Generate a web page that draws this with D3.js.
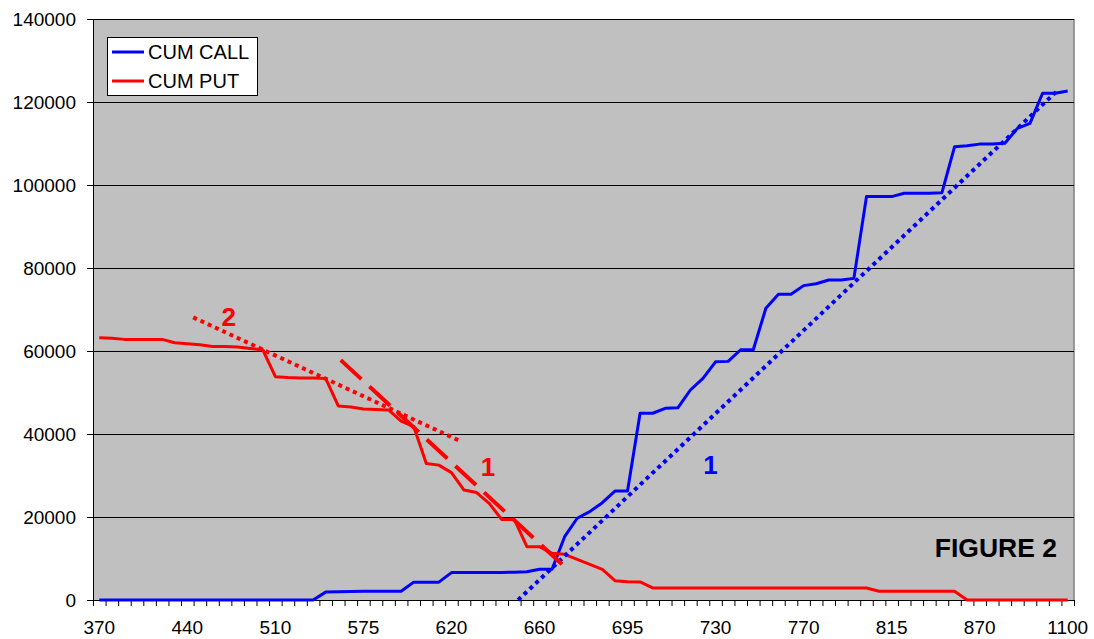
<!DOCTYPE html>
<html>
<head>
<meta charset="utf-8">
<script src="https://cdn.jsdelivr.net/npm/d3@7"></script>
<style>
  body { margin: 0; background: #fff; }
  text { font-family: "Liberation Sans", Arial, sans-serif; }
</style>
</head>
<body>
<script>
// Strike prices (categories), only every 7th one is labelled
const strikes = [
  370, 380, 390, 400, 410, 420, 430, 440, 450, 460, 470, 480, 490, 500, 510,
  520, 530, 540, 550, 560, 570, 575, 580, 585, 590, 595, 600, 610, 620,
  625, 630, 635, 640, 645, 650, 660, 665, 670, 675, 680, 685, 690, 695,
  700, 705, 710, 715, 720, 725, 730, 735, 740, 745, 750, 755, 760, 770,
  775, 780, 790, 795, 800, 810, 815, 820, 825, 830, 840, 850, 860, 870,
  880, 900, 920, 950, 1000, 1050, 1100
];

const cumCall = [
  0, 0, 0, 0, 0, 0, 0, 0, 0, 0, 0, 0, 0, 0, 0, 0, 0, 0,
  1900, 2000, 2050, 2100, 2100, 2100, 2100, 4300, 4300, 4300,
  6600, 6600, 6650, 6650, 6650, 6700, 6800, 7400, 7400,
  15250, 19700, 21300, 23450, 26250, 26250, 45000, 45000, 46200, 46300,
  50600, 53400, 57400, 57500, 60300, 60300, 70300, 73650, 73650,
  75750, 76200, 77100, 77100, 77500, 97200, 97200, 97200, 98000, 98000,
  98000, 98150, 109200, 109450, 109850, 109900, 110050, 113650, 114850,
  122100, 122100, 122650
];

const cumPut = [
  63200, 63050, 62800, 62800, 62800, 62800, 62000, 61750, 61500, 61100,
  61100, 60950, 60600, 60300, 53800, 53600, 53500, 53500, 53400, 46750,
  46500, 46000, 45900, 45800, 43100, 41800, 32900, 32500, 30700, 26500,
  25900, 23300, 19400, 19400, 12850, 12850, 11250, 11000, 9800, 8600,
  7400, 4650, 4400, 4350, 2900, 2900, 2900, 2900, 2900, 2900, 2900,
  2900, 2900, 2900, 2900, 2900, 2900, 2900, 2900, 2900, 2900, 2900,
  2100, 2100, 2100, 2100, 2100, 2100, 2100, 0, 0, 0, 0, 0, 0, 0, 0, 0
];

const yTicks = [0, 20000, 40000, 60000, 80000, 100000, 120000, 140000];

// Hand drawn trend lines: [category index, value]
const callTrend1 = [[33.3, 0], [76.1, 122500]];
const putTrend1 = [[19.2, 57800], [37.4, 6900]];
const putTrend2 = [[7.47, 68100], [28.8, 38150]];

const series = [
  { name: "CUM CALL", values: cumCall, color: "#0000ff" },
  { name: "CUM PUT", values: cumPut, color: "#ff0000" }
];

const width = 1094, height = 639;
const margin = { top: 19, right: 20, bottom: 39, left: 93 };
const plotW = width - margin.left - margin.right;
const plotH = height - margin.top - margin.bottom;

const svg = d3.select("body").append("svg")
  .attr("width", width)
  .attr("height", height);

const g = svg.append("g")
  .attr("transform", "translate(" + margin.left + "," + margin.top + ")");

// scales
const x = d3.scaleBand().domain(d3.range(strikes.length)).range([0, plotW]);
const xi = d3.scaleLinear().domain([0, strikes.length]).range([0, plotW]);
const y = d3.scaleLinear().domain([0, 140000]).range([plotH, 0]);
const cx = i => xi(i + 0.5);

// plot area
g.append("rect")
  .attr("width", plotW).attr("height", plotH)
  .attr("fill", "#c0c0c0");
g.append("line")
  .attr("x1", plotW).attr("x2", plotW)
  .attr("y1", 0).attr("y2", plotH)
  .attr("stroke", "#808080").attr("stroke-width", 1.5);

// gridlines
g.selectAll(".grid")
  .data(yTicks.slice(1))
  .enter().append("line")
  .attr("x1", 0).attr("x2", plotW)
  .attr("y1", d => Math.round(y(d)) + 0.5).attr("y2", d => Math.round(y(d)) + 0.5)
  .attr("stroke", "#000").attr("stroke-width", 1);

// y axis
const yAxis = g.append("g")
  .call(d3.axisLeft(y).tickValues(yTicks).tickSize(6).tickPadding(11).tickFormat(d3.format("d")));
yAxis.select(".domain").attr("stroke", "#000");
yAxis.selectAll("text").attr("font-size", 19).attr("fill", "#000")
  .style("font-family", "'Liberation Sans', Arial, sans-serif");

// x axis: tick marks at category boundaries
const xTickAxis = g.append("g")
  .attr("transform", "translate(0," + plotH + ")")
  .call(d3.axisBottom(xi).tickValues(d3.range(strikes.length + 1)).tickSize(6).tickFormat(""));
xTickAxis.select(".domain").attr("stroke", "#000");

// x axis labels every 7th category
const xLabelAxis = g.append("g")
  .attr("transform", "translate(0," + plotH + ")")
  .call(d3.axisBottom(x)
    .tickValues(d3.range(0, strikes.length, 7))
    .tickSize(0).tickPadding(21)
    .tickFormat(i => strikes[i]));
xLabelAxis.select(".domain").remove();
xLabelAxis.selectAll("text").attr("font-size", 19).attr("fill", "#000")
  .style("font-family", "'Liberation Sans', Arial, sans-serif");

// series lines
const line = d3.line()
  .x((d, i) => cx(i))
  .y(d => y(d));

g.selectAll(".series")
  .data(series)
  .enter().append("path")
  .attr("d", s => line(s.values))
  .attr("fill", "none")
  .attr("stroke", s => s.color)
  .attr("stroke-width", 3)
  .attr("stroke-linejoin", "round");

// trend lines
const trend = d3.line()
  .x(d => cx(d[0]))
  .y(d => y(d[1]));

g.append("path").attr("d", trend(callTrend1))
  .attr("fill", "none").attr("stroke", "#0000ff")
  .attr("stroke-width", 4).attr("stroke-dasharray", "4,4");
g.append("path").attr("d", trend(putTrend1))
  .attr("fill", "none").attr("stroke", "#ff0000")
  .attr("stroke-width", 4).attr("stroke-dasharray", "28,11");
g.append("path").attr("d", trend(putTrend2))
  .attr("fill", "none").attr("stroke", "#ff0000")
  .attr("stroke-width", 4).attr("stroke-dasharray", "4,4");

// trend labels
const notes = [
  { text: "2", i: 10.3, v: 66000, color: "#ff0000" },
  { text: "1", i: 30.9, v: 29800, color: "#ff0000" },
  { text: "1", i: 48.6, v: 30400, color: "#0000ff" }
];
g.selectAll(".note")
  .data(notes)
  .enter().append("text")
  .attr("x", d => cx(d.i))
  .attr("y", d => y(d.v))
  .attr("text-anchor", "middle")
  .attr("font-size", 26)
  .attr("font-weight", "bold")
  .attr("fill", d => d.color)
  .text(d => d.text);

g.append("text")
  .attr("x", 964)
  .attr("y", 538)
  .attr("text-anchor", "end")
  .attr("font-size", 26.5)
  .attr("font-weight", "bold")
  .attr("fill", "#000")
  .text("FIGURE 2");

// legend
const legend = svg.append("g").attr("transform", "translate(107,37)");
legend.append("rect")
  .attr("x", 0.5).attr("y", 0.5)
  .attr("width", 150).attr("height", 58)
  .attr("fill", "#fff").attr("stroke", "#000");
const item = legend.selectAll(".item")
  .data(series)
  .enter().append("g")
  .attr("transform", (d, i) => "translate(0," + (15 + i * 29) + ")");
item.append("line")
  .attr("x1", 5).attr("x2", 37)
  .attr("stroke", d => d.color).attr("stroke-width", 3);
item.append("text")
  .attr("x", 41).attr("y", 7)
  .attr("font-size", 20)
  .attr("fill", "#000")
  .text(d => d.name);
</script>
</body>
</html>
